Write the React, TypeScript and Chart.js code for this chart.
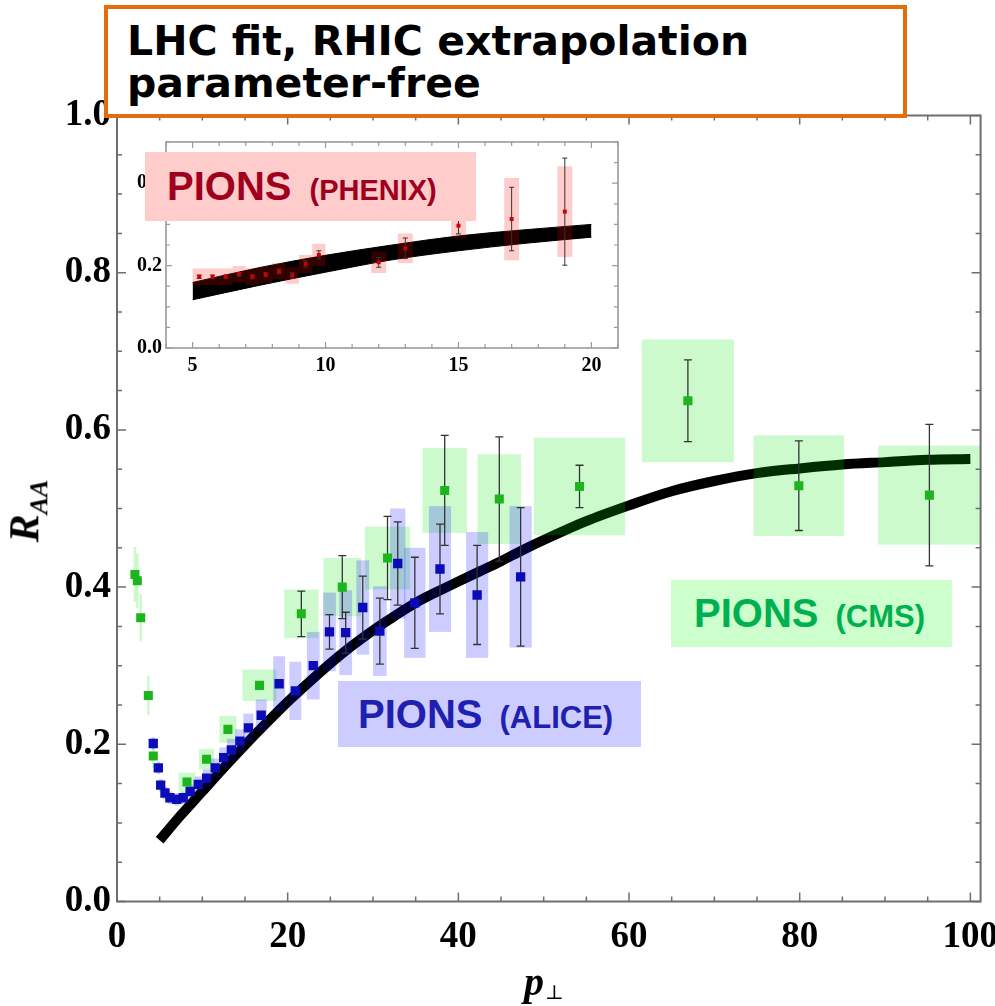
import React, { useEffect, useRef } from "react";
import { Chart, registerables } from "chart.js";

Chart.register(...registerables);

// ---------- Main plot: model curve ----------
const fitPt = [5, 7.5, 10, 12.5, 15, 17.5, 20, 22.5, 25, 27.5, 30, 32.5, 35, 37.5, 40, 42.5, 45, 47.5, 50, 55, 60, 65, 70, 75, 80, 85, 90, 95, 100];
const fitRaa = [0.078, 0.11, 0.14, 0.17, 0.199, 0.227, 0.254, 0.279, 0.303, 0.325, 0.345, 0.363, 0.38, 0.394, 0.407, 0.42, 0.433, 0.447, 0.46, 0.484, 0.504, 0.522, 0.535, 0.545, 0.551, 0.556, 0.559, 0.562, 0.563];

// ---------- CMS pions ----------
const cmsPt = [2.1, 2.38, 2.78, 3.67, 4.25, 8.2, 10.5, 13.0, 16.7, 21.6, 26.4, 31.7, 38.4, 44.8, 54.2, 66.9, 79.9, 95.2];
const cmsRaa = [0.416, 0.408, 0.361, 0.262, 0.185, 0.152, 0.181, 0.219, 0.275, 0.366, 0.4, 0.437, 0.523, 0.512, 0.528, 0.637, 0.529, 0.517];
const cmsStat = [0, 0, 0, 0, 0, 0, 0, 0, 0, 0.029, 0.04, 0.053, 0.07, 0.079, 0.027, 0.052, 0.057, 0.09];
const cmsSysW = [0.15, 0.15, 0.15, 0.15, 0.15, 1.0, 0.9, 1.0, 2.0, 2.0, 2.2, 2.65, 2.6, 2.55, 5.35, 5.4, 5.3, 6.0];
const cmsSysH = [0.035, 0.035, 0.03, 0.025, 0.015, 0.012, 0.013, 0.017, 0.02, 0.031, 0.037, 0.04, 0.054, 0.057, 0.062, 0.078, 0.064, 0.063];

// ---------- ALICE pions ----------
const alicePt = [4.25, 4.84, 5.12, 5.62, 6.2, 7.0, 7.76, 8.57, 9.52, 10.5, 11.5, 12.5, 13.4, 14.4, 15.4, 16.9, 19.0, 20.9, 23.0, 24.9, 26.8, 28.8, 30.8, 32.9, 34.9, 37.85, 42.2, 47.3];
const aliceRaa = [0.201, 0.17, 0.148, 0.138, 0.132, 0.13, 0.132, 0.14, 0.149, 0.157, 0.17, 0.183, 0.193, 0.204, 0.221, 0.237, 0.277, 0.268, 0.3, 0.343, 0.342, 0.374, 0.344, 0.43, 0.38, 0.423, 0.39, 0.413];
const aliceStat = [0, 0, 0, 0, 0, 0, 0, 0, 0, 0, 0, 0, 0, 0, 0, 0, 0, 0, 0, 0.022, 0.026, 0.04, 0.042, 0.053, 0.058, 0.057, 0.063, 0.088];
const aliceSysW = [0.2, 0.2, 0.2, 0.25, 0.3, 0.3, 0.3, 0.35, 0.4, 0.45, 0.5, 0.5, 0.5, 0.55, 0.6, 0.65, 0.7, 0.7, 0.75, 0.75, 0.75, 0.75, 0.8, 0.9, 1.25, 1.3, 1.3, 1.3];
const aliceSysH = [0.008, 0.008, 0.008, 0.008, 0.008, 0.008, 0.008, 0.009, 0.01, 0.011, 0.012, 0.013, 0.014, 0.015, 0.018, 0.02, 0.035, 0.037, 0.043, 0.05, 0.054, 0.06, 0.057, 0.07, 0.07, 0.08, 0.08, 0.09];

// ---------- Inset: PHENIX pions ----------
const phxPt = [5.25, 5.75, 6.25, 6.75, 7.25, 7.75, 8.25, 8.75, 9.25, 9.75, 12, 13, 15, 17, 19];
const phxRaa = [0.173, 0.173, 0.173, 0.179, 0.173, 0.178, 0.186, 0.176, 0.204, 0.226, 0.208, 0.242, 0.297, 0.313, 0.331];
const phxStat = [0.004, 0.004, 0.004, 0.004, 0.005, 0.005, 0.006, 0.007, 0.008, 0.01, 0.012, 0.025, 0.02, 0.077, 0.13];
const phxSysW = [0.25, 0.25, 0.25, 0.25, 0.25, 0.25, 0.25, 0.25, 0.25, 0.25, 0.28, 0.28, 0.28, 0.28, 0.28];
const phxSysH = [0.02, 0.02, 0.02, 0.02, 0.02, 0.02, 0.02, 0.02, 0.022, 0.027, 0.026, 0.036, 0.03, 0.1, 0.11];

// inset model band
const bandPt = [5, 7.5, 10, 12.5, 15, 17.5, 20];
const bandHi = [0.159, 0.195, 0.225, 0.25, 0.272, 0.287, 0.3];
const bandLo = [0.117, 0.152, 0.184, 0.214, 0.236, 0.254, 0.269];

// tick labels
const mainXTicks = [0, 20, 40, 60, 80, 100];
const mainYTicks = [0, 0.2, 0.4, 0.6, 0.8, 1.0];
const insetXTicks = [5, 10, 15, 20];
const insetYTicks = [0, 0.2, 0.4];

const SERIF = "'Liberation Serif', 'Times New Roman', 'DejaVu Serif', serif";
const SANS = "'Liberation Sans', Arial, 'DejaVu Sans', sans-serif";

interface ErrGroup {
  xs: number[]; ys: number[]; stat: number[]; sw: number[]; sh: number[];
  boxColor: string; barColor: string; barWidth: number; cap: number;
}
interface FrameCfg {
  xMajor: number; xMinor: number; yMajor: number; yMinor: number;
  majorLen: number; minorLen: number; color: string; width: number;
}

const isMult = (v: number, step: number) => {
  const r = v / step;
  return Math.abs(r - Math.round(r)) < 1e-6;
};

function makeDecor(groups: ErrGroup[], afterLabel: string, f: FrameCfg) {
  return {
    id: "decor",
    afterDatasetDraw(chart: any, args: any) {
      const ds = chart.data.datasets[args.index];
      if (!ds || ds.label !== afterLabel) return;
      const { ctx, chartArea: a } = chart;
      const sx = chart.scales.x, sy = chart.scales.y;
      ctx.save();
      ctx.beginPath();
      ctx.rect(a.left, a.top, a.right - a.left, a.bottom - a.top);
      ctx.clip();
      for (const g of groups) {
        ctx.fillStyle = g.boxColor;
        g.xs.forEach((x, i) => {
          const l = sx.getPixelForValue(x - g.sw[i]);
          const r = sx.getPixelForValue(x + g.sw[i]);
          const t = sy.getPixelForValue(g.ys[i] + g.sh[i]);
          const b = sy.getPixelForValue(g.ys[i] - g.sh[i]);
          ctx.fillRect(l, t, r - l, b - t);
        });
      }
      for (const g of groups) {
        ctx.strokeStyle = g.barColor;
        ctx.lineWidth = g.barWidth;
        g.xs.forEach((x, i) => {
          if (!g.stat[i]) return;
          const px = sx.getPixelForValue(x);
          const t = sy.getPixelForValue(g.ys[i] + g.stat[i]);
          const b = sy.getPixelForValue(g.ys[i] - g.stat[i]);
          ctx.beginPath();
          ctx.moveTo(px, t); ctx.lineTo(px, b);
          ctx.moveTo(px - g.cap, t); ctx.lineTo(px + g.cap, t);
          ctx.moveTo(px - g.cap, b); ctx.lineTo(px + g.cap, b);
          ctx.stroke();
        });
      }
      ctx.restore();
    },
    afterDraw(chart: any) {
      const { ctx, chartArea: a } = chart;
      const sx = chart.scales.x, sy = chart.scales.y;
      ctx.save();
      ctx.strokeStyle = f.color;
      ctx.lineWidth = f.width;
      ctx.strokeRect(a.left, a.top, a.right - a.left, a.bottom - a.top);
      ctx.lineWidth = Math.max(1, f.width * 0.75);
      ctx.beginPath();
      const n0 = Math.ceil(sx.min / f.xMinor - 1e-9), n1 = Math.floor(sx.max / f.xMinor + 1e-9);
      for (let n = n0; n <= n1; n++) {
        const v = n * f.xMinor;
        const px = sx.getPixelForValue(v);
        const len = isMult(v, f.xMajor) ? f.majorLen : f.minorLen;
        ctx.moveTo(px, a.bottom); ctx.lineTo(px, a.bottom - len);
        ctx.moveTo(px, a.top); ctx.lineTo(px, a.top + len);
      }
      const m0 = Math.ceil(sy.min / f.yMinor - 1e-9), m1 = Math.floor(sy.max / f.yMinor + 1e-9);
      for (let n = m0; n <= m1; n++) {
        const v = n * f.yMinor;
        const py = sy.getPixelForValue(v);
        const len = isMult(v, f.yMajor) ? f.majorLen : f.minorLen;
        ctx.moveTo(a.left, py); ctx.lineTo(a.left + len, py);
        ctx.moveTo(a.right, py); ctx.lineTo(a.right - len, py);
      }
      ctx.stroke();
      ctx.restore();
    },
  };
}

const pts = (xs: number[], ys: number[]) => xs.map((x, i) => ({ x, y: ys[i] }));

const fixX = (h: number) => (s: any) => { s.height = h; s.paddingLeft = 0; s.paddingRight = 0; s.paddingTop = 0; s.paddingBottom = 0; };
const fixY = (w: number) => (s: any) => { s.width = w; s.paddingLeft = 0; s.paddingRight = 0; s.paddingTop = 0; s.paddingBottom = 0; };

export default function App() {
  const mainRef = useRef<HTMLCanvasElement>(null);
  const insetRef = useRef<HTMLCanvasElement>(null);

  useEffect(() => {
    const tickFont = { family: SERIF, size: 37, weight: "bold" as const };
    const main = new Chart(mainRef.current!, {
      type: "scatter",
      data: {
        datasets: [
          {
            type: "line", label: "fit", data: pts(fitPt, fitRaa),
            borderColor: "#000", borderWidth: 10, pointRadius: 0,
            cubicInterpolationMode: "monotone", borderCapStyle: "butt", fill: false, order: 10,
          } as any,
          {
            label: "CMS", data: pts(cmsPt, cmsRaa), pointStyle: "rect", pointRadius: 6.4,
            pointBackgroundColor: "#1DB51D", pointBorderWidth: 0, order: 2,
          },
          {
            label: "ALICE", data: pts(alicePt, aliceRaa), pointStyle: "rect", pointRadius: 6.6,
            pointBackgroundColor: "#0B0BB8", pointBorderWidth: 0, order: 1,
          },
        ],
      },
      options: {
        animation: false, responsive: false, events: [],
        layout: { padding: { top: 115.5, right: 14.4, left: 0, bottom: 0 }, autoPadding: false } as any,
        plugins: { legend: { display: false }, tooltip: { enabled: false } },
        scales: {
          x: {
            type: "linear", min: 0, max: 101.2,
            afterBuildTicks: (s: any) => { s.ticks = mainXTicks.map((v) => ({ value: v })); },
            afterFit: fixX(104.5),
            grid: { display: false, drawTicks: false }, border: { display: false },
            ticks: { font: tickFont, color: "#000", padding: 14, autoSkip: false, maxRotation: 0, callback: (v: any) => String(v) },
          },
          y: {
            type: "linear", min: 0, max: 1,
            afterBuildTicks: (s: any) => { s.ticks = mainYTicks.map((v) => ({ value: v })); },
            afterFit: fixY(117),
            grid: { display: false, drawTicks: false }, border: { display: false },
            ticks: { font: tickFont, color: "#000", padding: 6, autoSkip: false, callback: (v: any) => Number(v).toFixed(1) },
          },
        },
      },
      plugins: [
        makeDecor(
          [
            { xs: cmsPt, ys: cmsRaa, stat: cmsStat, sw: cmsSysW, sh: cmsSysH, boxColor: "rgba(0,230,0,0.2)", barColor: "#333", barWidth: 1.3, cap: 4 },
            { xs: alicePt, ys: aliceRaa, stat: aliceStat, sw: aliceSysW, sh: aliceSysH, boxColor: "rgba(0,0,255,0.2)", barColor: "#333", barWidth: 1.3, cap: 4 },
          ],
          "fit",
          { xMajor: 20, xMinor: 5, yMajor: 0.2, yMinor: 0.05, majorLen: 9, minorLen: 5, color: "#6e6e6e", width: 2 }
        ),
      ],
    });

    const insetFont = { family: SERIF, size: 20, weight: "bold" as const };
    const inset = new Chart(insetRef.current!, {
      type: "scatter",
      data: {
        datasets: [
          {
            type: "line", label: "bandHi", data: pts(bandPt, bandHi), borderColor: "#000", borderWidth: 1,
            pointRadius: 0, fill: "+1", backgroundColor: "#000", cubicInterpolationMode: "monotone", order: 11,
          } as any,
          {
            type: "line", label: "bandLo", data: pts(bandPt, bandLo), borderColor: "#000", borderWidth: 1,
            pointRadius: 0, fill: false, cubicInterpolationMode: "monotone", order: 10,
          } as any,
          {
            label: "PHENIX", data: pts(phxPt, phxRaa), pointStyle: "rect", pointRadius: 2.8,
            pointBackgroundColor: "#CC0000", pointBorderWidth: 0, order: 1,
          },
        ],
      },
      options: {
        animation: false, responsive: false, events: [],
        layout: { padding: { top: 12, right: 22, left: 0, bottom: 0 }, autoPadding: false } as any,
        plugins: { legend: { display: false }, tooltip: { enabled: false } },
        scales: {
          x: {
            type: "linear", min: 4, max: 21,
            afterBuildTicks: (s: any) => { s.ticks = insetXTicks.map((v) => ({ value: v })); },
            afterFit: fixX(42),
            grid: { display: false, drawTicks: false }, border: { display: false },
            ticks: { font: insetFont, color: "#000", padding: 6, autoSkip: false, maxRotation: 0, callback: (v: any) => String(v) },
          },
          y: {
            type: "linear", min: 0, max: 0.5,
            afterBuildTicks: (s: any) => { s.ticks = insetYTicks.map((v) => ({ value: v })); },
            afterFit: fixY(66),
            grid: { display: false, drawTicks: false }, border: { display: false },
            ticks: { font: insetFont, color: "#000", padding: 4, autoSkip: false, callback: (v: any) => Number(v).toFixed(1) },
          },
        },
      },
      plugins: [
        makeDecor(
          [
            { xs: phxPt, ys: phxRaa, stat: phxStat, sw: phxSysW, sh: phxSysH, boxColor: "rgba(255,0,0,0.2)", barColor: "#333", barWidth: 1, cap: 2.5 },
          ],
          "bandLo",
          { xMajor: 5, xMinor: 1, yMajor: 0.2, yMinor: 0.05, majorLen: 6, minorLen: 4, color: "#9a9a9a", width: 1.6 }
        ),
      ],
    });

    return () => {
      main.destroy();
      inset.destroy();
    };
  }, []);

  const labelBase: React.CSSProperties = {
    position: "absolute", boxSizing: "border-box", fontFamily: SANS, fontWeight: "bold",
    whiteSpace: "nowrap", fontSize: 40,
  };

  return (
    <div style={{ position: "fixed", left: 0, top: 0, width: 995, height: 1006, background: "#fff", overflow: "hidden" }}>
      <canvas ref={mainRef} width={995} height={1006} style={{ position: "absolute", left: 0, top: 0, width: 995, height: 1006 }} />
      <canvas ref={insetRef} width={540} height={260} style={{ position: "absolute", left: 100, top: 130, width: 540, height: 260 }} />

      {/* axis titles */}
      <div style={{ position: "absolute", left: 27.5, top: 510.5, transform: "translate(-50%,-50%) rotate(-90deg)", fontFamily: SERIF, fontStyle: "italic", fontWeight: "bold", fontSize: 42, lineHeight: 1, whiteSpace: "nowrap" }}>
        R<sub style={{ fontSize: 26 }}>AA</sub>
      </div>
      <div style={{ position: "absolute", left: 544, top: 982, transform: "translate(-50%,-50%)", fontFamily: SERIF, fontStyle: "italic", fontWeight: "bold", fontSize: 40, lineHeight: 1, whiteSpace: "nowrap" }}>
        p<span style={{ fontSize: 20, fontStyle: "normal", fontWeight: "normal", verticalAlign: "-0.2em", marginLeft: 1 }}>⊥</span>
      </div>

      {/* data labels */}
      <div style={{ ...labelBase, left: 145, top: 152, width: 331, height: 69, lineHeight: "69px", background: "#FFCCCC", color: "#A0001E", paddingLeft: 22 }}>
        PIONS<span style={{ fontSize: 29, marginLeft: 18 }}>(PHENIX)</span>
      </div>
      <div style={{ ...labelBase, left: 671, top: 580, width: 281, height: 67, lineHeight: "67px", background: "#CCFFCC", color: "#00B050", paddingLeft: 23 }}>
        PIONS<span style={{ fontSize: 31, marginLeft: 17 }}>(CMS)</span>
      </div>
      <div style={{ ...labelBase, left: 338, top: 681, width: 303, height: 66, lineHeight: "66px", background: "#CCCCFF", color: "#2020B0", paddingLeft: 20 }}>
        PIONS<span style={{ fontSize: 31, marginLeft: 17 }}>(ALICE)</span>
      </div>

      {/* title box */}
      <div style={{ position: "absolute", left: 104, top: 5, width: 803, height: 113, boxSizing: "border-box", border: "4px solid #E46C0A", background: "#fff", fontFamily: "'DejaVu Sans', Verdana, sans-serif", fontWeight: "bold", fontSize: 41, lineHeight: "42px", padding: "11px 0 0 19px", color: "#000", whiteSpace: "nowrap" }}>
        <div>LHC fit, RHIC extrapolation</div>
        <div>parameter-free</div>
      </div>
    </div>
  );
}
